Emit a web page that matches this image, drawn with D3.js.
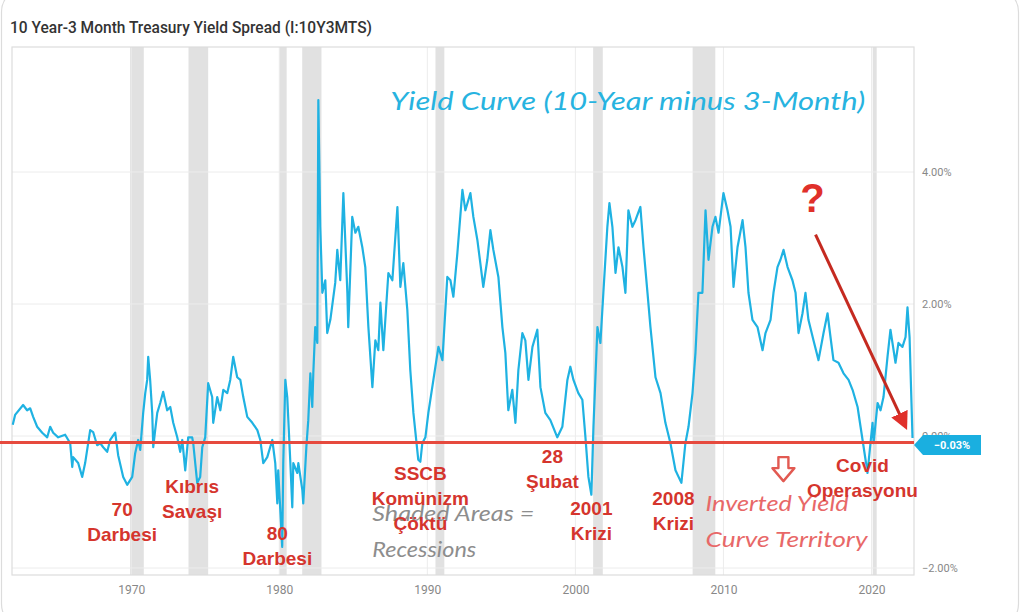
<!DOCTYPE html>
<html>
<head>
<meta charset="utf-8">
<script src="https://cdn.jsdelivr.net/npm/d3@7"></script>
<style>
  html, body { margin: 0; padding: 0; background: #fff; }
  svg { display: block; }
</style>
</head>
<body>
<div id="chart"></div>
<script>
// 10Y-3M treasury spread, annotated

const WIDTH = 1024;
const HEIGHT = 612;
const PLOT = { LEFT: 12, RIGHT: 914, TOP: 47, BOTTOM: 575 };

// series (decimal year, spread %)
const years = [
  1962.0, 1962.16, 1962.7, 1962.97, 1963.18, 1963.38, 1963.65, 1963.99, 1964.33, 1964.53,
  1964.73, 1965.07, 1965.54, 1965.88, 1966.02, 1966.08, 1966.42, 1966.69, 1966.89, 1967.23,
  1967.43, 1967.7, 1967.91, 1968.11, 1968.38, 1968.58, 1968.92, 1969.12, 1969.46, 1969.73,
  1970.07, 1970.27, 1970.47, 1970.61, 1970.81, 1970.95, 1971.08, 1971.15, 1971.28, 1971.42,
  1971.49, 1971.62, 1971.76, 1971.96, 1972.16, 1972.43, 1972.64, 1972.84, 1973.11, 1973.31,
  1973.45, 1973.65, 1973.85, 1974.12, 1974.19, 1974.46, 1974.66, 1974.8, 1975.0, 1975.2,
  1975.47, 1975.54, 1975.81, 1976.02, 1976.22, 1976.49, 1976.69, 1976.89, 1977.16, 1977.37,
  1977.57, 1977.84, 1978.18, 1978.52, 1978.72, 1978.92, 1979.19, 1979.53, 1979.73, 1979.87,
  1979.93, 1980.2, 1980.27, 1980.41, 1980.54, 1980.75, 1980.88, 1980.95, 1981.22, 1981.29,
  1981.56, 1981.62, 1981.83, 1981.96, 1982.1, 1982.23, 1982.3, 1982.43, 1982.57, 1982.64,
  1982.77, 1982.91, 1983.11, 1983.24, 1983.45, 1983.78, 1983.92, 1984.12, 1984.33, 1984.6,
  1984.66, 1984.93, 1985.14, 1985.34, 1985.61, 1985.81, 1986.02, 1986.29, 1986.49, 1986.69,
  1986.83, 1987.03, 1987.37, 1987.64, 1987.98, 1988.18, 1988.38, 1988.65, 1988.85, 1989.06,
  1989.39, 1989.53, 1989.66, 1989.87, 1990.07, 1990.41, 1990.75, 1991.02, 1991.35, 1991.56,
  1991.76, 1992.03, 1992.37, 1992.57, 1992.91, 1993.11, 1993.38, 1993.58, 1993.78, 1994.05,
  1994.26, 1994.46, 1994.8, 1995.07, 1995.27, 1995.47, 1995.74, 1995.95, 1996.15, 1996.42,
  1996.62, 1996.83, 1997.1, 1997.43, 1997.64, 1997.97, 1998.31, 1998.78, 1999.12, 1999.46,
  1999.66, 1999.87, 2000.2, 2000.47, 2000.68, 2000.88, 2001.08, 2001.22, 2001.49, 2001.69,
  2001.89, 2002.16, 2002.3, 2002.5, 2002.71, 2002.91, 2003.18, 2003.38, 2003.58, 2003.85,
  2004.06, 2004.39, 2004.6, 2004.87, 2005.07, 2005.41, 2005.75, 2006.08, 2006.42, 2006.76,
  2007.16, 2007.43, 2007.64, 2007.91, 2008.11, 2008.31, 2008.58, 2008.79, 2008.99, 2009.26,
  2009.46, 2009.67, 2010.0, 2010.27, 2010.48, 2010.68, 2010.95, 2011.29, 2011.49, 2011.69,
  2011.96, 2012.3, 2012.64, 2012.84, 2013.18, 2013.38, 2013.65, 2013.85, 2014.06, 2014.33,
  2014.66, 2014.87, 2015.07, 2015.34, 2015.54, 2015.74, 2016.08, 2016.42, 2016.76, 2017.03,
  2017.23, 2017.43, 2017.77, 2018.11, 2018.45, 2018.72, 2019.06, 2019.26, 2019.47, 2019.73,
  2019.93, 2020.07, 2020.14, 2020.41, 2020.61, 2020.81, 2021.08, 2021.28, 2021.49, 2021.62,
  2021.82, 2022.09, 2022.3, 2022.43, 2022.57, 2022.7, 2022.77
];
const spread = [
  0.17, 0.32, 0.47, 0.39, 0.42, 0.29, 0.14, 0.05, -0.02, 0.14,
  0.05, -0.02, 0.02, -0.11, -0.47, -0.32, -0.41, -0.62, -0.41, 0.09,
  0.06, -0.14, -0.11, -0.17, -0.24, -0.06, 0.05, -0.29, -0.62, -0.74,
  -0.62, -0.26, -0.06, -0.21, 0.35, 0.65, 0.85, 1.2, 0.85, 0.35,
  -0.17, 0.09, 0.35, 0.5, 0.67, 0.39, 0.44, 0.2, -0.02, -0.24,
  -0.06, -0.52, -0.02, -0.02, -0.11, -0.71, -0.62, -0.17, -0.02, 0.8,
  0.59, 0.2, 0.59, 0.39, 0.7, 0.65, 0.85, 1.2, 0.89, 0.85,
  0.59, 0.29, 0.2, 0.09, -0.06, -0.41, -0.32, -0.06, -0.41, -1.02,
  -0.52, -1.68, -0.41, 0.85, 0.59, -0.41, -1.08, -0.41, -0.56, -0.41,
  -0.82, -1.02, -0.17, 0.24, 0.95, 0.44, 0.95, 1.65, 1.41, 5.09,
  3.17, 2.17, 2.36, 1.56, 1.76, 2.32, 2.82, 2.36, 3.68, 2.17,
  1.65, 3.32, 3.08, 3.17, 2.86, 2.56, 1.65, 0.74, 1.45, 1.3,
  2.02, 1.3, 2.47, 2.36, 3.47, 2.26, 2.62, 1.91, 1.0, 0.35,
  -0.36, -0.39, -0.11, -0.02, 0.35, 0.85, 1.35, 1.15, 2.41, 2.36,
  2.11, 2.77, 3.73, 3.42, 3.68, 3.32, 2.97, 2.62, 2.26, 2.67,
  3.12, 2.82, 2.41, 1.65, 1.26, 0.39, 0.7, 0.2, 1.0, 1.56,
  1.45, 0.85, 1.35, 1.61, 0.74, 0.35, 0.24, -0.02, 0.14, 0.85,
  1.05, 0.85, 0.65, 0.55, -0.02, -0.62, -0.89, 0.14, 1.65, 1.41,
  2.17, 3.17, 3.53, 3.17, 2.47, 2.86, 2.56, 2.17, 3.42, 3.17,
  3.27, 3.47, 2.86, 2.17, 1.65, 0.89, 0.65, 0.2, -0.11, -0.52,
  -0.71, -0.11, 0.14, 0.65, 1.26, 2.17, 2.17, 3.42, 2.67, 3.17,
  3.32, 3.08, 3.68, 3.42, 3.17, 2.26, 2.86, 3.27, 2.86, 2.17,
  1.76, 1.65, 1.3, 1.56, 1.76, 2.17, 2.56, 2.67, 2.82, 2.56,
  2.36, 2.17, 1.56, 1.86, 2.17, 1.76, 1.45, 1.15, 1.56, 1.86,
  1.5, 1.15, 1.11, 0.95, 0.85, 0.7, 0.44, 0.14, -0.17, -0.56,
  -0.11, 0.2, -0.11, 0.5, 0.39, 0.59, 1.2, 1.61, 1.3, 1.11,
  1.41, 1.35, 1.5, 1.95, 1.5, 0.5, -0.03
];
const lastValue = -0.03;

// recession bands [start, end]
const recessionStart = [1969.92, 1973.87, 1980.0, 1981.55, 1990.55, 2001.2, 2007.92, 2020.08];
const recessionEnd   = [1970.85, 1975.2, 1980.5, 1982.85, 1991.15, 2001.85, 2009.45, 2020.35];

const xTicks = [1970, 1980, 1990, 2000, 2010, 2020];
const yTicks = [4, 2, 0, -2];
const inversionLine = -0.1;

// Turkish event labels, anchored at (year, value) of first line baseline
const eventLines  = [["70", "Darbesi"], ["Kıbrıs", "Savaşı"], ["80", "Darbesi"],
                     ["SSCB", "Komünizm", "Çöktü"], ["28", "Şubat"], ["2001", "Krizi"],
                     ["2008", "Krizi"], ["Covid", "Operasyonu"]];
const eventYears  = [1969.39, 1974.12, 1979.87, 1989.53, 1998.45, 2001.08, 2006.62, 2019.39];
const eventValues = [-1.21, -0.86, -1.58, -0.67, -0.41, -1.2, -1.05, -0.55];

const x = d3.scaleLinear().domain([1961.95, 2022.87]).range([PLOT.LEFT, PLOT.RIGHT]);
const y = d3.scaleLinear().domain([-2.106, 5.894]).range([PLOT.BOTTOM, PLOT.TOP]);

const svg = d3.select('#chart').append('svg')
  .attr('width', WIDTH)
  .attr('height', HEIGHT);

// card outline
svg.append('rect')
  .attr('x', 1.5).attr('y', -12)
  .attr('width', 1017).attr('height', 640)
  .attr('rx', 24)
  .attr('fill', '#fff')
  .attr('stroke', '#dcdcdc')
  .attr('stroke-width', 1.2);

svg.append('text')
  .attr('x', 10).attr('y', 33)
  .attr('textLength', 362)
  .attr('lengthAdjust', 'spacingAndGlyphs')
  .style('font-family', 'Roboto')
  .style('font-size', '16px')
  .style('font-weight', 500)
  .style('fill', '#333')
  .text('10 Year-3 Month Treasury Yield Spread (I:10Y3MTS)');

// recessions
svg.selectAll('.recession')
  .data(recessionStart)
  .enter().append('rect')
  .attr('class', 'recession')
  .attr('x', d => x(d))
  .attr('y', PLOT.TOP)
  .attr('width', (d, i) => x(recessionEnd[i]) - x(d))
  .attr('height', PLOT.BOTTOM - PLOT.TOP)
  .attr('fill', '#e1e1e1');

// grid
svg.selectAll('.hgrid')
  .data(yTicks)
  .enter().append('line')
  .attr('x1', PLOT.LEFT).attr('x2', PLOT.RIGHT)
  .attr('y1', d => y(d)).attr('y2', d => y(d))
  .attr('stroke', '#ececec')
  .attr('stroke-width', 1);

svg.selectAll('.vgrid')
  .data(xTicks)
  .enter().append('line')
  .attr('x1', d => x(d)).attr('x2', d => x(d))
  .attr('y1', PLOT.TOP).attr('y2', PLOT.BOTTOM)
  .attr('stroke', '#ececec')
  .attr('stroke-width', 1);

svg.append('rect')
  .attr('x', PLOT.LEFT).attr('y', PLOT.TOP)
  .attr('width', PLOT.RIGHT - PLOT.LEFT)
  .attr('height', PLOT.BOTTOM - PLOT.TOP)
  .attr('fill', 'none')
  .attr('stroke', '#dddddd')
  .attr('stroke-width', 1.2);

// axes labels
const xAxis = d3.axisBottom(x).tickValues(xTicks).tickFormat(d3.format('d')).tickSize(0).tickPadding(10);
svg.append('g')
  .attr('transform', `translate(0, ${PLOT.BOTTOM})`)
  .call(xAxis)
  .call(g => g.select('.domain').remove())
  .selectAll('text')
  .style('font-family', 'Roboto')
  .style('font-size', '12px')
  .style('fill', '#888');

const yAxis = d3.axisRight(y).tickValues(yTicks).tickFormat(d => d3.format('.2f')(d) + '%').tickSize(0).tickPadding(8);
svg.append('g')
  .attr('transform', `translate(${PLOT.RIGHT}, 0)`)
  .call(yAxis)
  .call(g => g.select('.domain').remove())
  .selectAll('text')
  .style('font-family', 'Roboto')
  .style('font-size', '11px')
  .style('fill', '#888');

// series line
const series = years.map((d, i) => [d, spread[i]]);
svg.append('path')
  .datum(series)
  .attr('d', d3.line().x(d => x(d[0])).y(d => y(d[1])))
  .attr('fill', 'none')
  .attr('stroke', '#1fb2e2')
  .attr('stroke-width', 2.2)
  .attr('stroke-linejoin', 'round');

// hand-drawn red line for inversion
svg.append('line')
  .attr('x1', 0).attr('x2', PLOT.RIGHT)
  .attr('y1', y(inversionLine)).attr('y2', y(inversionLine))
  .attr('stroke', '#e64a3e')
  .attr('stroke-width', 3);

// last value tag
const tagY = y(lastValue) + 7;
svg.append('path')
  .attr('d', `M${PLOT.RIGHT},${tagY} L${PLOT.RIGHT + 9},${tagY - 10} L${PLOT.RIGHT + 67},${tagY - 10} L${PLOT.RIGHT + 67},${tagY + 10} L${PLOT.RIGHT + 9},${tagY + 10} Z`)
  .attr('fill', '#1aafe0');
svg.append('text')
  .attr('x', PLOT.RIGHT + 38).attr('y', tagY + 4)
  .attr('text-anchor', 'middle')
  .style('font-family', 'Roboto')
  .style('font-size', '11px')
  .style('font-weight', 700)
  .style('fill', '#fff')
  .text(d3.format('.2f')(lastValue) + '%');

// handwritten notes
svg.append('text')
  .attr('x', x(1987.5)).attr('y', y(4.94))
  .attr('textLength', 475)
  .attr('lengthAdjust', 'spacingAndGlyphs')
  .style('font-family', 'Lato')
  .style('font-style', 'italic')
  .style('font-size', '25px')
  .style('fill', '#27b3e0')
  .text('Yield Curve (10-Year minus 3-Month)');

const shaded = svg.append('g')
  .style('font-family', 'Lato')
  .style('font-style', 'italic')
  .style('font-size', '21px')
  .style('fill', '#8d8d8d');
shaded.append('text').attr('x', x(1986.28)).attr('y', y(-1.29))
  .attr('textLength', 162).attr('lengthAdjust', 'spacingAndGlyphs').text('Shaded Areas =');
shaded.append('text').attr('x', x(1986.28)).attr('y', y(-1.29) + 36)
  .attr('textLength', 104).attr('lengthAdjust', 'spacingAndGlyphs').text('Recessions');

const inverted = svg.append('g')
  .style('font-family', 'Lato')
  .style('font-style', 'italic')
  .style('font-size', '21px')
  .style('fill', '#e86868');
inverted.append('text').attr('x', x(2008.79)).attr('y', y(-1.14))
  .attr('textLength', 143).attr('lengthAdjust', 'spacingAndGlyphs').text('Inverted Yield');
inverted.append('text').attr('x', x(2008.79)).attr('y', y(-1.14) + 36)
  .attr('textLength', 162).attr('lengthAdjust', 'spacingAndGlyphs').text('Curve Territory');

// hollow down arrow
const ax = x(2014.05), ay = y(-0.32);
svg.append('path')
  .attr('d', `M${ax - 5},${ay} L${ax + 5},${ay} L${ax + 5},${ay + 11} L${ax + 11},${ay + 11} L${ax},${ay + 24} L${ax - 11},${ay + 11} L${ax - 5},${ay + 11} Z`)
  .attr('fill', '#fff')
  .attr('stroke', '#e25a52')
  .attr('stroke-width', 2.4)
  .attr('stroke-linejoin', 'round');

// event labels
const events = svg.append('g')
  .style('font-family', 'Liberation Sans, Arial, sans-serif')
  .style('font-weight', 700)
  .style('font-size', '19px')
  .style('fill', '#d5352d');
eventLines.forEach((lines, i) => {
  const t = events.append('text')
    .attr('text-anchor', 'middle')
    .attr('x', x(eventYears[i]))
    .attr('y', y(eventValues[i]));
  lines.forEach((s, j) => {
    t.append('tspan')
      .attr('x', x(eventYears[i]))
      .attr('dy', j === 0 ? 0 : 25)
      .text(s);
  });
});

// question mark and arrow
svg.append('text')
  .attr('x', x(2016.02)).attr('y', y(3.39))
  .attr('text-anchor', 'middle')
  .style('font-family', 'Liberation Sans, Arial, sans-serif')
  .style('font-weight', 700)
  .style('font-size', '40px')
  .style('fill', '#e0302a')
  .text('?');

svg.append('defs').append('marker')
  .attr('id', 'head')
  .attr('viewBox', '0 -5 10 10')
  .attr('refX', 8).attr('refY', 0)
  .attr('markerWidth', 6).attr('markerHeight', 6)
  .attr('orient', 'auto')
  .append('path')
  .attr('d', 'M0,-5L10,0L0,5Z')
  .attr('fill', '#e0302a');

svg.append('line')
  .attr('x1', x(2016.22)).attr('y1', y(3.05))
  .attr('x2', x(2022.3)).attr('y2', y(0.14))
  .attr('stroke', '#c52a20')
  .attr('stroke-width', 3)
  .attr('marker-end', 'url(#head)');
</script>
</body>
</html>
